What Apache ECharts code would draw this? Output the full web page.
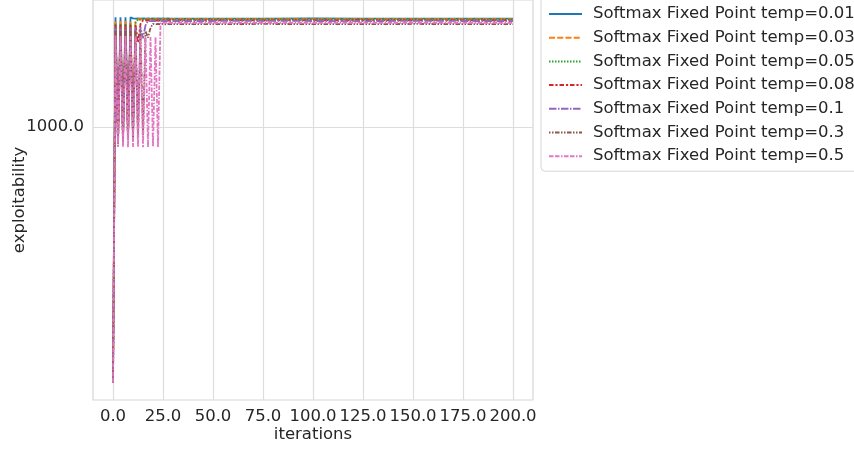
<!DOCTYPE html>
<html>
<head>
<meta charset="utf-8">
<script src="https://cdn.jsdelivr.net/npm/echarts@6/dist/echarts.min.js"></script>
<style>
html,body{margin:0;padding:0;background:#fff;}
#chart{width:854px;height:449px;}
</style>
</head>
<body>
<div id="chart"></div>
<script>
// ---- data ----
var seriesNames = [
  'Softmax Fixed Point temp=0.01',
  'Softmax Fixed Point temp=0.03',
  'Softmax Fixed Point temp=0.05',
  'Softmax Fixed Point temp=0.08',
  'Softmax Fixed Point temp=0.1',
  'Softmax Fixed Point temp=0.3',
  'Softmax Fixed Point temp=0.5'
];
var xTicks = [0, 25, 50, 75, 100, 125, 150, 175, 200];
var yTicks = [1000];

var headX = [0, 1.25, 2.5, 3.75, 5, 6.25, 7.5, 8.75, 10, 11.25, 12.5, 13.75, 15, 16.25, 17.5, 18.75, 20, 21.25, 22.5, 23.75, 25, 26.25, 27.5, 28.75, 30];
var tailX = [50, 75, 100, 125, 150, 175, 200];

var head001 = [289, 1705, 960, 1705, 975, 1705, 990, 1705, 1696, 1694, 1696, 1694, 1696, 1694, 1696, 1694, 1696, 1694, 1696, 1694, 1696, 1694, 1696, 1694, 1695];
var head003 = [289, 1675, 945, 1675, 955, 1675, 965, 1675, 975, 1675, 1690, 1688, 1691, 1688, 1690, 1689, 1691, 1688, 1690, 1689, 1691, 1688, 1690, 1689, 1690];
var head005 = [289, 1655, 935, 1655, 945, 1655, 955, 1655, 965, 1660, 1688, 1686, 1689, 1686, 1688, 1687, 1689, 1686, 1688, 1687, 1689, 1686, 1688, 1687, 1688];
var head008 = [289, 1645, 930, 1645, 940, 1645, 950, 1645, 960, 1645, 1510, 1650, 1680, 1678, 1681, 1679, 1680, 1678, 1681, 1679, 1680, 1678, 1681, 1679, 1680];
var head01  = [289, 1625, 925, 1625, 935, 1625, 945, 1625, 955, 1625, 965, 1625, 1540, 1640, 1676, 1674, 1676, 1675, 1676, 1674, 1676, 1675, 1676, 1674, 1675];
var head03  = [289, 1595, 920, 1595, 930, 1595, 940, 1595, 950, 1595, 955, 1595, 960, 1595, 1545, 1620, 1652, 1648, 1651, 1649, 1652, 1648, 1651, 1649, 1650];
var head05  = [289, 1560, 907, 1560, 908, 1558, 906, 1556, 907, 1555, 908, 1553, 906, 1552, 907, 1550, 908, 1548, 907, 1655, 1662, 1658, 1661, 1659, 1660];

var tail001 = [1695, 1694, 1696, 1695, 1694, 1695, 1695];
var tail003 = [1690, 1689, 1690, 1691, 1689, 1690, 1690];
var tail005 = [1688, 1687, 1688, 1687, 1688, 1688, 1688];
var tail008 = [1680, 1679, 1680, 1681, 1679, 1680, 1680];
var tail01  = [1675, 1676, 1675, 1674, 1676, 1675, 1675];
var tail03  = [1650, 1651, 1650, 1649, 1651, 1650, 1650];
var tail05  = [1660, 1659, 1660, 1661, 1659, 1660, 1660];

var heads = [head001, head003, head005, head008, head01, head03, head05];
var tails = [tail001, tail003, tail005, tail008, tail01, tail03, tail05];

// ---- styles ----
var colors = ['#1f77b4', '#ff7f0e', '#2ca02c', '#d62728', '#9467bd', '#8c564b', '#e377c2'];
var dashes = ['solid', [6, 2.25], [1.5, 1.5], [4.5, 1.9, 2.2, 1.9], [7.5, 1.5, 1.5, 1.5], [1.5, 1.5, 1.5, 1.5, 4.5, 1.5], [4.5, 1.5, 4.5, 1.5, 1.5, 1.5]];
var FONT = 'DejaVu Sans';
var TXT = '#262626';

function pairs(xs, ys) {
  var out = [];
  for (var i = 0; i < xs.length; i++) out.push([xs[i], ys[i]]);
  return out;
}

var series = seriesNames.map(function (name, k) {
  return {
    name: name,
    type: 'line',
    data: pairs(headX, heads[k]).concat(pairs(tailX, tails[k])),
    showSymbol: false,
    symbol: 'none',
    lineStyle: { color: colors[k], width: 1.8, type: dashes[k] },
    itemStyle: { color: colors[k] },
    emphasis: { disabled: true }
  };
});

var chart = echarts.init(document.getElementById('chart'), null, { renderer: 'canvas' });
chart.setOption({
  animation: false,
  backgroundColor: '#ffffff',
  textStyle: { fontFamily: FONT, color: TXT },
  grid: {
    left: 93, right: 321, top: 0, bottom: 49,
    containLabel: false,
    outerBoundsMode: 'none',
    show: true, borderColor: '#d6d6d6', borderWidth: 1.2, backgroundColor: 'transparent'
  },
  legend: {
    orient: 'vertical',
    left: 541, top: -3,
    padding: [8, 8, 6, 7],
    itemWidth: 33, itemHeight: 14, itemGap: 5.7,
    backgroundColor: '#ffffff',
    borderColor: '#d6d6d6', borderWidth: 1, borderRadius: 4,
    itemStyle: { opacity: 0 },
    textStyle: { fontFamily: FONT, fontSize: 16.5, color: TXT, lineHeight: 18, padding: [0, 0, 0, 6] },
    data: seriesNames
  },
  xAxis: {
    type: 'value',
    min: -10, max: 210,
    name: 'iterations',
    nameLocation: 'middle',
    nameGap: 26,
    nameMoveOverlap: false,
    nameTextStyle: { fontFamily: FONT, fontSize: 16.5, color: TXT },
    axisLine: { show: false },
    axisTick: { show: false, customValues: xTicks },
    axisLabel: {
      customValues: xTicks,
      margin: 8,
      fontFamily: FONT, fontSize: 16.5, color: TXT,
      formatter: function (v) { return v.toFixed(1); }
    },
    splitLine: { show: true, lineStyle: { color: '#dddddd', width: 1.2 } }
  },
  yAxis: {
    type: 'log',
    logBase: 10,
    min: 265, max: 1855,
    name: 'exploitability',
    nameLocation: 'middle',
    nameRotate: 90,
    nameGap: 65,
    nameMoveOverlap: false,
    nameTextStyle: { fontFamily: FONT, fontSize: 16.5, color: TXT },
    axisLine: { show: false },
    axisTick: { show: false, customValues: yTicks },
    axisLabel: {
      customValues: yTicks,
      margin: 9,
      fontFamily: FONT, fontSize: 16.5, color: TXT,
      formatter: function (v) { return Number(v).toFixed(1); }
    },
    splitLine: { show: true, lineStyle: { color: '#dddddd', width: 1.2 } }
  },
  series: series
});
</script>
</body>
</html>
